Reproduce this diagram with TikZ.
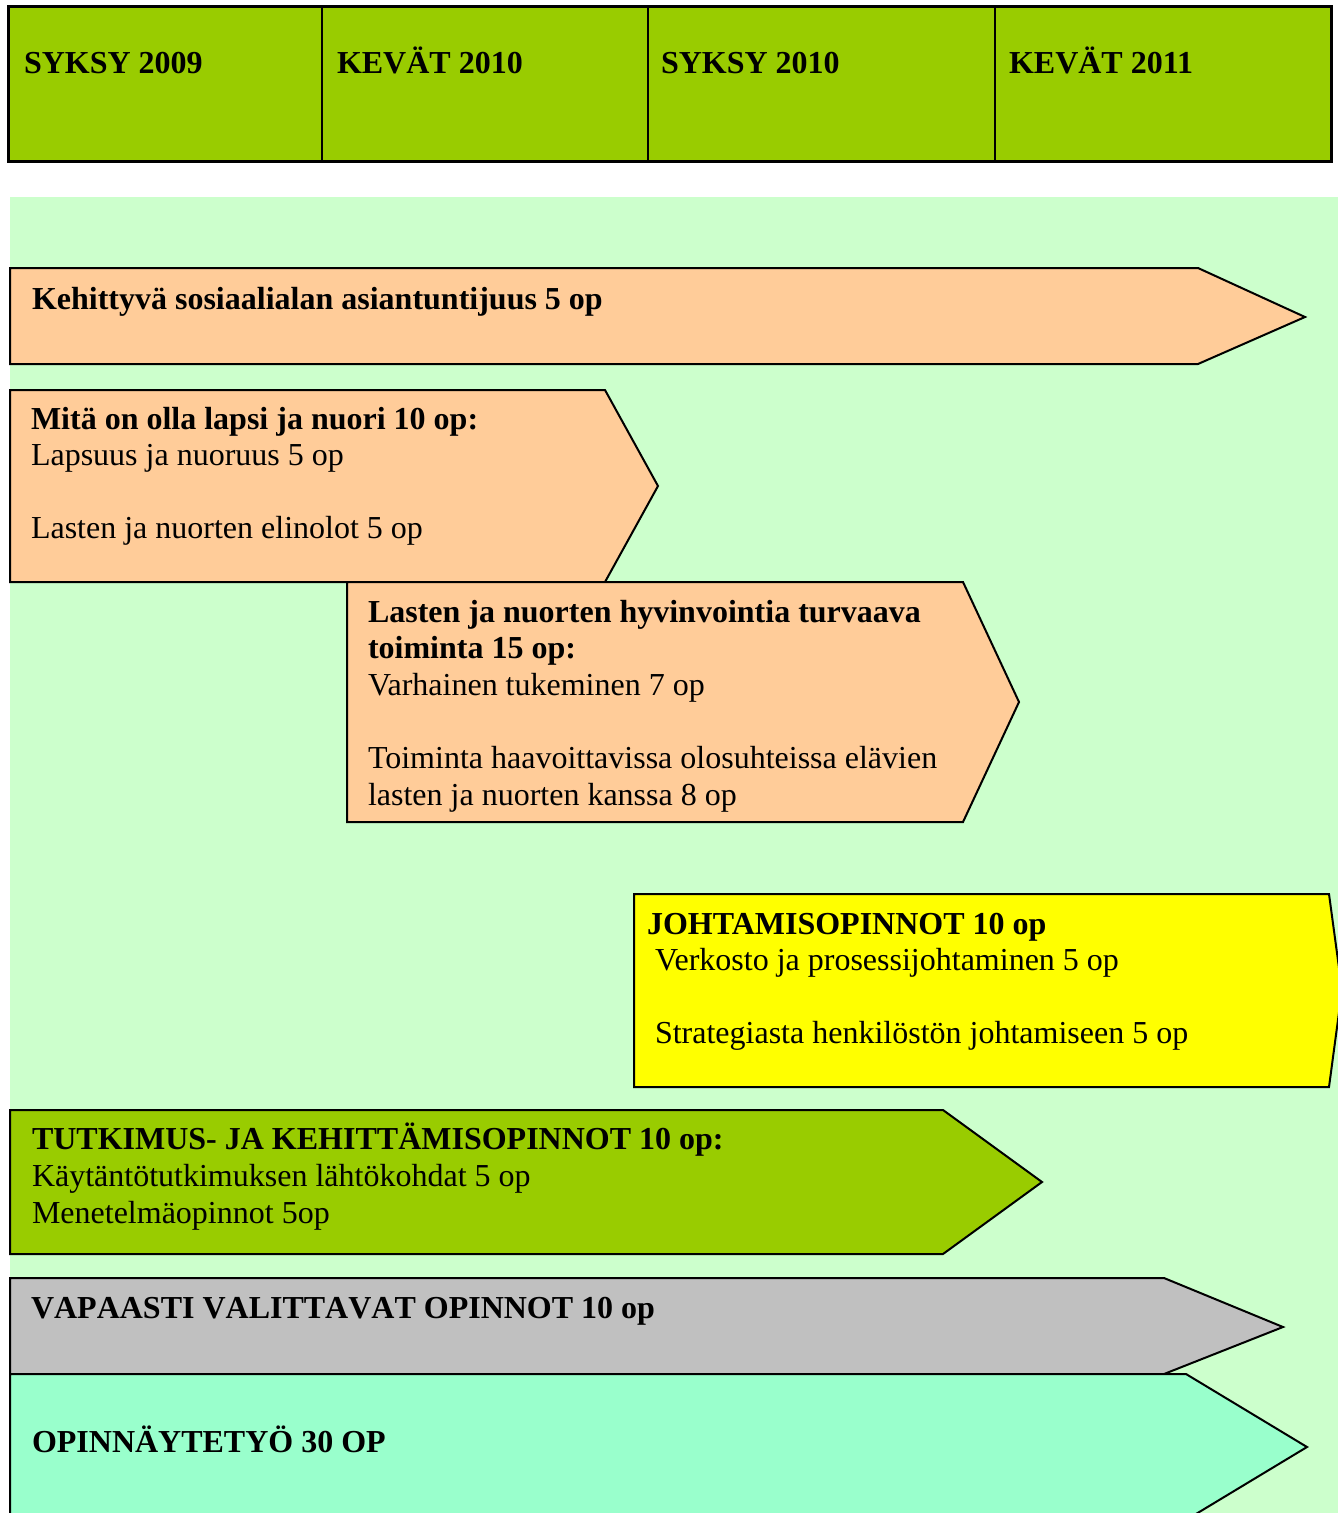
\documentclass[tikz,border=0pt]{standalone}
\usepackage{fontspec}
\setmainfont{Liberation Serif}
\definecolor{hdrgreen}{HTML}{99CC00}
\definecolor{bggreen}{HTML}{CCFFCC}
\definecolor{peach}{HTML}{FFCC99}
\definecolor{yell}{HTML}{FFFF00}
\definecolor{greyfill}{HTML}{C0C0C0}
\definecolor{mint}{HTML}{99FFCC}
\tikzset{
  shapebox/.style={draw=black, line width=2pt, line join=miter},
  txt/.style={anchor=base west, inner sep=0pt, outer sep=0pt,
    font=\fontsize{32}{36.7}\selectfont},
  btxt/.style={txt, font=\fontsize{32}{36.7}\selectfont\bfseries},
}
\begin{document}
\begin{tikzpicture}[x=1pt,y=-1pt]
\useasboundingbox (0,0) rectangle (1338,1513);
\clip (0,0) rectangle (1338,1513);
\fill[white] (0,0) rectangle (1338,1513);
% header
\draw[fill=hdrgreen, line width=3pt] (8,6) rectangle (1331,161);
\draw[line width=2.2pt] (322,6) -- (322,161);
\draw[line width=2.2pt] (648,6) -- (648,161);
\draw[line width=2.2pt] (995,6) -- (995,161);
\node[btxt] (h1) at (24,73) {SYKSY 2009};
\node[btxt] (h2) at (337,73) {KEVÄT 2010};
\node[btxt] (h3) at (661,73) {SYKSY 2010};
\node[btxt] (h4) at (1009,73) {KEVÄT 2011};
% background
\fill[bggreen] (10,197) rectangle (1338,1513);
% arrows
\draw[shapebox, fill=peach] (10,268) -- (1198,268) -- (1305,317) -- (1198,364) -- (10,364) -- cycle;
\node[btxt] (a1) at (32,309) {Kehittyvä sosiaalialan asiantuntijuus 5 op};

\draw[shapebox, fill=peach] (10,390) -- (605,390) -- (658,486) -- (605,582) -- (10,582) -- cycle;
\node[btxt] (a2a) at (31,429) {Mitä on olla lapsi ja nuori 10 op:};
\node[txt] (a2b) at (31,465) {Lapsuus ja nuoruus 5 op};
\node[txt] (a2c) at (31,538) {Lasten ja nuorten elinolot 5 op};

\draw[shapebox, fill=peach] (347,582) -- (963,582) -- (1019,702) -- (963,822) -- (347,822) -- cycle;
\node[btxt] (a3a) at (368,622) {Lasten ja nuorten hyvinvointia turvaava};
\node[btxt] (a3b) at (368,658) {toiminta 15 op:};
\node[txt] (a3c) at (368,695) {Varhainen tukeminen 7 op};
\node[txt] (a3d) at (368,768) {Toiminta haavoittavissa olosuhteissa elävien};
\node[txt] (a3e) at (368,805) {lasten ja nuorten kanssa 8 op};

\draw[shapebox, fill=yell] (634,894) -- (1329,894) -- (1342,990) -- (1329,1087) -- (634,1087) -- cycle;
\node[btxt] (a4a) at (647,934) {JOHTAMISOPINNOT 10 op};
\node[txt] (a4b) at (655,970) {Verkosto ja prosessijohtaminen 5 op};
\node[txt] (a4c) at (655,1043) {Strategiasta henkilöstön johtamiseen 5 op};

\draw[shapebox, fill=hdrgreen] (10,1110) -- (943,1110) -- (1042,1182) -- (943,1254) -- (10,1254) -- cycle;
\node[btxt] (a5a) at (32,1149) {TUTKIMUS- JA KEHITTÄMISOPINNOT 10 op:};
\node[txt] (a5b) at (32,1186) {Käytäntötutkimuksen lähtökohdat 5 op};
\node[txt] (a5c) at (32,1223) {Menetelmäopinnot 5op};

\draw[shapebox, fill=greyfill] (10,1278) -- (1164,1278) -- (1283,1327) -- (1164,1374) -- (10,1374) -- cycle;
\node[btxt] (a6) at (31,1318) {\addfontfeatures{Kerning=Off}VAPAASTI VALITTAVAT OPINNOT 10 op};

\draw[shapebox, fill=mint] (10,1374) -- (1186,1374) -- (1307,1447) -- (1186,1520) -- (10,1520) -- cycle;
\node[btxt] (a7) at (32,1452) {OPINNÄYTETYÖ 30 OP};
\end{tikzpicture}
\end{document}
